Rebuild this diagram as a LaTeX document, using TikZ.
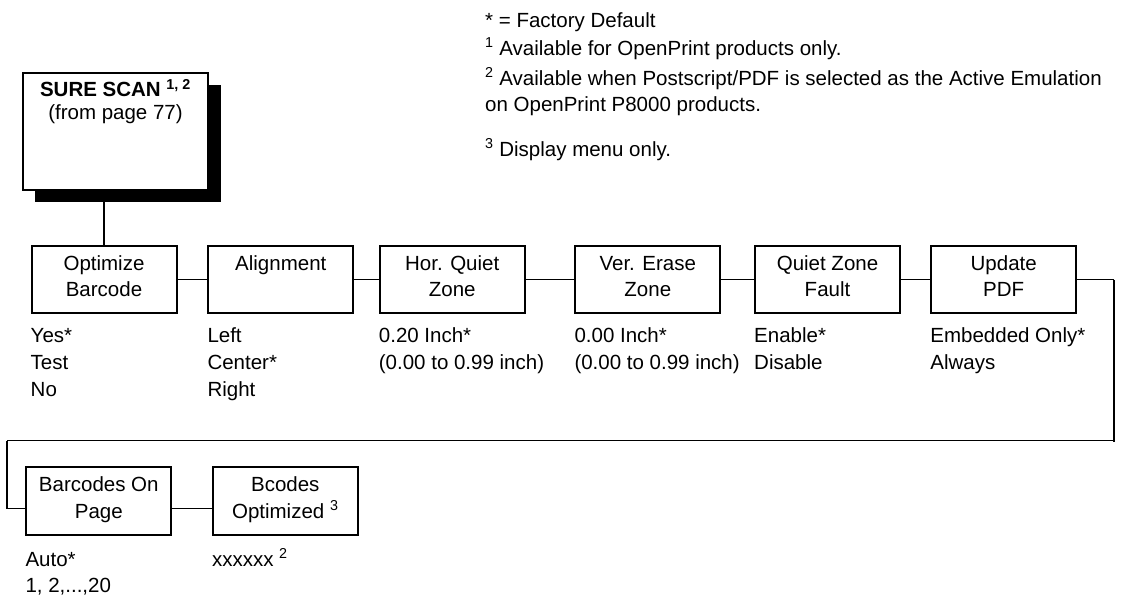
\documentclass[tikz,border=0pt]{standalone}
\usepackage{fontspec}
\setmainfont{Liberation Sans}
\usetikzlibrary{shadows}

% text of a menu box, set from the top of the box
\newcommand{\boxtext}[3]{\parbox[c][#2][t]{#1}{\centering\vspace*{5.6pt}\strut #3}}
\newcommand{\menutext}[1]{\boxtext{145pt}{67.5pt}{#1}}
% lines under a box, baseline on the first one
\newcommand{\vals}[1]{\begin{tabular}[t]{@{}l@{}}#1\end{tabular}}

\begin{document}
\begin{tikzpicture}[
    x=1pt, y=-1pt,
    font=\fontsize{20.5}{26.7}\selectfont,
    menu/.style={
        draw,
        line width=2pt,
        inner sep=0pt,
        fill=white
    },
    opts/.style={
        anchor=base west,
        inner sep=0pt
    },
    note/.style={
        anchor=base west,
        inner sep=0pt
    },
    link/.style={
        line width=1pt
    },
    turn/.style={
        line width=1.8pt
    }
]
\useasboundingbox (0,0) rectangle (1123,595);

% notes
\node[note] (fndefault) at (485,27) {* = Factory Default};
\node[note] (fnone) at (485,55) {\textsuperscript{1} Available for OpenPrint products only.};
\node[note] (fntwo) at (485,85)
{\vals{\textsuperscript{2} Available when Postscript/PDF is selected as the Active Emulation\\on OpenPrint P8000 products.}};
\node[note] (fnthree) at (485,156) {\textsuperscript{3} Display menu only.};

% start box
\node[menu, drop shadow={shadow xshift=12.3pt, shadow yshift=-12.5pt, fill=black, opacity=1}]
(surescan) at (115.5,131.3)
{\boxtext{185.6pt}{117.3pt}{\textbf{SURE SCAN \textsuperscript{1, 2}}\\[-4pt](from page 77)}};

% first row
\node[menu] (optimize) at (104,279.5) {\menutext{Optimize\\Barcode}};
\node[menu] (alignment) at (280.8,279.5) {\menutext{Alignment}};
\node[menu] (horquiet) at (452.2,279.5) {\menutext{Hor. Quiet\\Zone}};
\node[menu] (vererase) at (647.8,279.5) {\menutext{Ver. Erase\\Zone}};
\node[menu] (quietfault) at (827.5,279.5) {\menutext{Quiet Zone\\Fault}};
\node[menu] (updatepdf) at (1003.7,279.5) {\menutext{Update\\PDF}};

% second row
\node[menu] (barcodes) at (98.8,500.8) {\menutext{Barcodes On\\Page}};
\node[menu] (bcodes) at (285.3,500.8) {\menutext{Bcodes\\Optimized \textsuperscript{3}}};

% values
\node[opts] (optimizeval) at ([yshift=-28.7pt]optimize.south west) {\vals{Yes*\\Test\\No}};
\node[opts] (alignmentval) at ([yshift=-28.7pt]alignment.south west) {\vals{Left\\Center*\\Right}};
\node[opts] (horquietval) at ([yshift=-28.7pt]horquiet.south west) {\vals{0.20 Inch*\\(0.00 to 0.99 inch)}};
\node[opts] (verereaseval) at ([yshift=-28.7pt]vererase.south west) {\vals{0.00 Inch*\\(0.00 to 0.99 inch)}};
\node[opts] (quietfaultval) at ([yshift=-28.7pt]quietfault.south west) {\vals{Enable*\\Disable}};
\node[opts] (updatepdfval) at ([yshift=-28.7pt]updatepdf.south west) {\vals{Embedded Only*\\Always}};
\node[opts] (barcodesval) at ([yshift=-30.7pt]barcodes.south west) {\vals{Auto*\\1, 2,...,20}};
\node[opts] (bcodesval) at ([yshift=-30.7pt]bcodes.south west) {xxxxxx \textsuperscript{2}};

% links
\draw[turn] (optimize.north) -- (optimize.north |- surescan.south);
\draw[link] (optimize) -- (alignment);
\draw[link] (alignment) -- (horquiet);
\draw[link] (horquiet) -- (vererase);
\draw[link] (vererase) -- (quietfault);
\draw[link] (quietfault) -- (updatepdf);

\coordinate (wrapright) at (1114,440.7);
\coordinate (wrapleft) at (7.3,440.7);
\draw[link] (updatepdf.east) -- (updatepdf.east -| wrapright);
\draw[turn] (updatepdf.east -| wrapright) -- ([yshift=-1pt]wrapright);
\draw[link] (wrapright) -- (wrapleft);
\draw[turn] (wrapleft) -- ([yshift=-8pt]barcodes.west -| wrapleft);
\draw[link] ([yshift=-8pt]barcodes.west -| wrapleft) -- ([yshift=-8pt]barcodes.west);
\draw[link] ([yshift=-8pt]barcodes.east) -- ([yshift=-8pt]bcodes.west);

\end{tikzpicture}
\end{document}
